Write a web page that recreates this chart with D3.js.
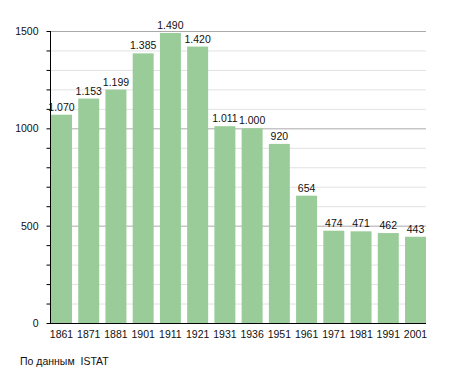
<!DOCTYPE html>
<html>
<head>
<meta charset="utf-8">
<script src="https://cdn.jsdelivr.net/npm/d3@7"></script>
<style>
    body { margin: 0; background: #fff; }
    text { font-family: "Liberation Sans", Arial, sans-serif; fill: #111; }
</style>
</head>
<body>
<script>
    //census years and population
    var years = ["1861", "1871", "1881", "1901", "1911", "1921", "1931", "1936", "1951", "1961", "1971", "1981", "1991", "2001"];
    var population = [1070, 1153, 1199, 1385, 1490, 1420, 1011, 1000, 920, 654, 474, 471, 462, 443];
    var valueLabels = ["1.070", "1.153", "1.199", "1.385", "1.490", "1.420", "1.011", "1.000", "920", "654", "474", "471", "462", "443"];
    var yTicks = [0, 500, 1000, 1500];

    var width = 455,
        height = 373;

    var svg = d3.select("body")
        .append("svg")
        .attr("width", width)
        .attr("height", height);

    var x = d3.scaleBand()
        .domain(years)
        .range([51, 426])
        .paddingInner(0.23)
        .paddingOuter(0.0);

    var y = d3.scaleLinear()
        .domain([0, 1500])
        .range([323, 31]);

    //minor gridlines every 100
    svg.selectAll(".minor")
        .data(d3.range(100, 1500, 100).filter(function (d) { return d % 500 != 0; }))
        .enter()
        .append("line")
        .attr("x1", 50).attr("x2", 426)
        .attr("y1", function (d) { return y(d) + 0.5; })
        .attr("y2", function (d) { return y(d) + 0.5; })
        .style("stroke", "#e2e2e2");

    //major gridlines
    svg.selectAll(".major")
        .data(yTicks.slice(1))
        .enter()
        .append("line")
        .attr("x1", 50).attr("x2", 426)
        .attr("y1", function (d) { return y(d) + 0.5; })
        .attr("y2", function (d) { return y(d) + 0.5; })
        .style("stroke", "#aaaaaa");

    //bars
    svg.selectAll(".bars")
        .data(population)
        .enter()
        .append("rect")
        .attr("x", function (d, i) { return x(years[i]); })
        .attr("width", x.bandwidth())
        .attr("y", function (d) { return y(d); })
        .attr("height", function (d) { return y(0) - y(d); })
        .style("fill", "#99cc99");

    //value labels
    svg.selectAll(".numbers")
        .data(population)
        .enter()
        .append("text")
        .attr("text-anchor", "middle")
        .attr("x", function (d, i) { return x(years[i]) + x.bandwidth() / 2; })
        .attr("y", function (d) { return y(d) - 4; })
        .style("font-size", "10.5px")
        .text(function (d, i) { return valueLabels[i]; });

    //y axis with minor ticks
    var yAxisMinor = d3.axisLeft(y)
        .tickValues(d3.range(0, 1501, 100))
        .tickSize(4)
        .tickFormat("");
    svg.append("g")
        .attr("transform", "translate(50.5,0)")
        .call(yAxisMinor)
        .call(function (g) {
            g.select(".domain").remove();
            g.selectAll("line").style("stroke", "#000");
        });

    var yAxis = d3.axisLeft(y)
        .tickValues(yTicks)
        .tickSize(0)
        .tickPadding(12)
        .tickFormat(d3.format("d"));
    svg.append("g")
        .attr("transform", "translate(50.5,0)")
        .call(yAxis)
        .call(function (g) {
            g.select(".domain").remove();
            g.selectAll("text")
                .style("font-family", "Liberation Sans, Arial, sans-serif")
                .style("font-size", "10.5px")
                .style("fill", "#111");
        });

    //axis lines
    svg.append("line")
        .attr("x1", 50.5).attr("x2", 50.5)
        .attr("y1", y(1500)).attr("y2", y(0) + 1)
        .style("stroke", "#000");
    svg.append("line")
        .attr("x1", 50).attr("x2", 426)
        .attr("y1", y(0) + 0.5).attr("y2", y(0) + 0.5)
        .style("stroke", "#000");

    //x axis labels
    var xAxis = d3.axisBottom(x)
        .tickSize(0)
        .tickPadding(8);
    svg.append("g")
        .attr("transform", "translate(0," + y(0) + ")")
        .call(xAxis)
        .call(function (g) {
            g.select(".domain").remove();
            g.selectAll("text")
                .style("font-family", "Liberation Sans, Arial, sans-serif")
                .style("font-size", "10.5px")
                .style("fill", "#111");
        });

    //source note
    svg.append("text")
        .attr("x", 20)
        .attr("y", 365)
        .style("font-size", "10.5px")
        .text("По данным\u00a0 ISTAT");
</script>
</body>
</html>
